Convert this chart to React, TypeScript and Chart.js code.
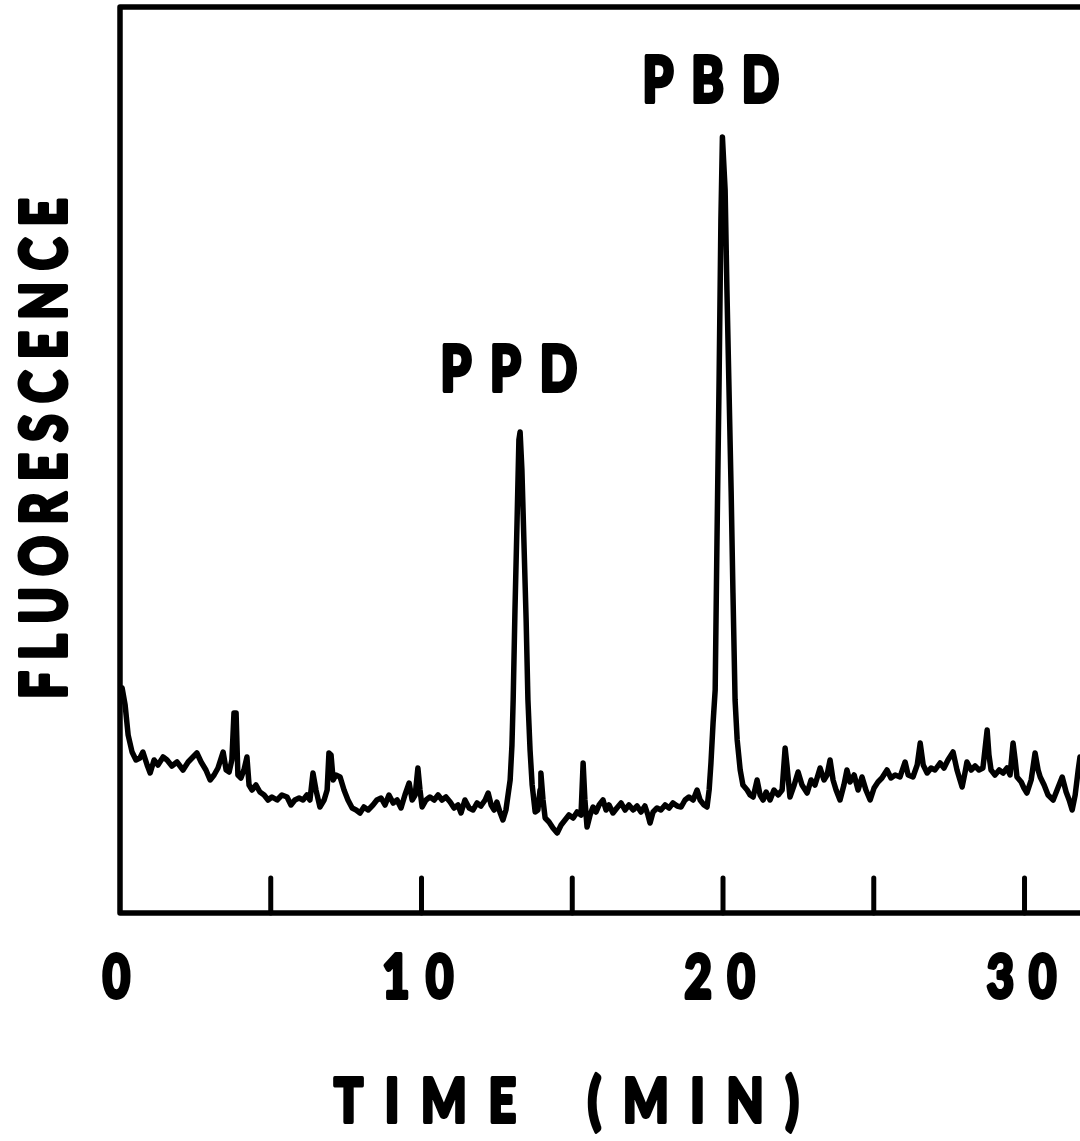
import React, { useEffect, useRef } from "react";
import { Chart, registerables } from "chart.js";

Chart.register(...registerables);

// ---- Data (time in minutes, fluorescence in arbitrary units) ----
const timeMin: number[] = [
  0.07, 0.17, 0.27, 0.40, 0.53, 0.66, 0.76, 0.90, 1.00, 1.13, 1.26, 1.43, 1.56, 1.72, 1.89, 2.09, 2.26, 2.42, 2.55, 2.69,
  2.85, 2.99, 3.12, 3.25, 3.42, 3.52, 3.62, 3.71, 3.78, 3.85, 3.91, 4.01, 4.11, 4.21, 4.28, 4.38, 4.51, 4.64, 4.78, 4.91,
  5.04, 5.21, 5.37, 5.54, 5.67, 5.80, 5.94, 6.07, 6.20, 6.30, 6.40, 6.50, 6.63, 6.77, 6.87, 6.93, 7.00, 7.07, 7.16, 7.30,
  7.43, 7.56, 7.70, 7.83, 7.96, 8.09, 8.23, 8.39, 8.52, 8.66, 8.79, 8.92, 9.06, 9.19, 9.32, 9.45, 9.59, 9.69, 9.79, 9.88,
  9.95, 10.02, 10.15, 10.28, 10.42, 10.55, 10.68, 10.81, 10.95, 11.08, 11.21, 11.31, 11.44, 11.58, 11.71, 11.84, 11.97, 12.11, 12.21, 12.31,
  12.41, 12.50, 12.60, 12.70, 12.80, 12.87, 12.94, 13.00, 13.04, 13.10, 13.17, 13.23, 13.27, 13.33, 13.40, 13.47, 13.53, 13.60, 13.67, 13.77,
  13.86, 13.93, 13.96, 14.03, 14.10, 14.23, 14.36, 14.50, 14.63, 14.76, 14.89, 15.03, 15.16, 15.29, 15.36, 15.42, 15.49, 15.59, 15.69, 15.79,
  15.89, 16.02, 16.12, 16.22, 16.35, 16.48, 16.62, 16.75, 16.88, 17.02, 17.15, 17.28, 17.41, 17.51, 17.58, 17.68, 17.81, 17.94, 18.08, 18.21,
  18.34, 18.48, 18.61, 18.74, 18.87, 19.01, 19.14, 19.24, 19.37, 19.47, 19.54, 19.60, 19.67, 19.74, 19.80, 19.87, 19.93, 19.98, 20.07, 20.13,
  20.20, 20.27, 20.33, 20.40, 20.47, 20.57, 20.66, 20.80, 20.90, 21.00, 21.13, 21.23, 21.33, 21.43, 21.56, 21.69, 21.83, 21.96, 22.06, 22.12,
  22.22, 22.36, 22.49, 22.62, 22.79, 22.92, 23.05, 23.22, 23.35, 23.45, 23.55, 23.65, 23.75, 23.88, 24.01, 24.11, 24.21, 24.35, 24.48, 24.61,
  24.74, 24.88, 25.01, 25.14, 25.27, 25.44, 25.57, 25.71, 25.87, 25.97, 26.04, 26.14, 26.30, 26.44, 26.54, 26.64, 26.77, 26.90, 27.03, 27.20,
  27.33, 27.46, 27.63, 27.76, 27.86, 27.93, 28.03, 28.09, 28.23, 28.36, 28.49, 28.62, 28.76, 28.82, 28.89, 29.02, 29.16, 29.29, 29.42, 29.52,
  29.62, 29.69, 29.75, 29.89, 29.98, 30.08, 30.22, 30.35, 30.45, 30.52, 30.65, 30.78, 30.95, 31.08, 31.25, 31.38, 31.48, 31.58, 31.68, 31.78,
  31.84,
];

const fluorescence: number[] = [
  225, 208, 178, 161, 153, 155, 161, 148, 140, 153, 148, 156, 153, 147, 151, 143, 151, 156, 160, 151,
  143, 133, 138, 145, 161, 143, 141, 153, 200, 200, 138, 135, 143, 156, 128, 123, 128, 121, 118, 113,
  116, 113, 118, 116, 108, 113, 115, 113, 118, 113, 140, 123, 106, 113, 123, 160, 158, 133, 138, 136,
  123, 113, 105, 103, 100, 106, 103, 108, 113, 115, 108, 118, 110, 113, 105, 118, 130, 113, 118, 145,
  123, 106, 113, 116, 113, 118, 113, 116, 111, 105, 108, 100, 113, 105, 103, 110, 107, 113, 120, 108,
  103, 111, 101, 93, 103, 118, 133, 168, 213, 303, 393, 473, 481, 443, 368, 293, 213, 163, 128, 101,
  103, 123, 140, 113, 95, 91, 85, 80, 88, 93, 98, 95, 101, 98, 150, 113, 86, 98, 106, 101,
  108, 113, 103, 108, 100, 105, 110, 103, 108, 103, 107, 101, 107, 98, 90, 101, 105, 103, 108, 105,
  110, 107, 106, 113, 116, 113, 123, 113, 108, 106, 123, 150, 190, 223, 373, 533, 693, 776, 723, 623,
  522, 421, 320, 213, 173, 143, 128, 123, 118, 116, 133, 118, 113, 121, 113, 123, 118, 123, 165, 148,
  116, 128, 141, 128, 120, 133, 128, 145, 133, 138, 153, 133, 123, 113, 128, 143, 131, 138, 123, 136,
  123, 113, 125, 131, 135, 143, 135, 138, 136, 145, 151, 138, 136, 148, 170, 148, 140, 145, 143, 150,
  145, 153, 161, 143, 133, 126, 141, 151, 143, 147, 143, 145, 183, 158, 143, 138, 143, 140, 145, 138,
  170, 153, 136, 131, 125, 120, 133, 160, 143, 136, 128, 118, 113, 123, 136, 121, 113, 103, 118, 143,
  156,
];

const xTickLabelValues: number[] = [0, 10, 20, 30];
const xTickLabels: string[] = ["0", "10", "20", "30"];
const xTickMarkValues: number[] = [5, 10, 15, 20, 25, 30];
const peakNames: string[] = ["PPD", "PBD"];
const peakLabelTimes: number[] = [12.92, 19.62];
const peakLabelLevels: number[] = [545, 834];
const xAxisTitle = "TIME (MIN)";
const yAxisTitle = "FLUORESCENCE";

const X_MAX = 31.84;
const Y_MAX = 906;

const FONT_FAMILY = 'Lato, "Liberation Sans", Arial, sans-serif';

function drawFitText(
  ctx: CanvasRenderingContext2D,
  text: string,
  cx: number,
  cy: number,
  targetW: number,
  cap: number,
  rot: number = 0,
  firstWordW: number = 0
) {
  const sx = 0.78;
  ctx.save();
  const c: any = ctx;
  c.letterSpacing = "0px";
  c.wordSpacing = "0px";
  ctx.font = `900 100px ${FONT_FAMILY}`;
  const capRef = ctx.measureText("H").actualBoundingBoxAscent || 72;
  const strokeW = 4;
  const size = ((cap - strokeW) * 100) / capRef;
  ctx.font = `900 ${size}px ${FONT_FAMILY}`;
  const m = ctx.measureText(text);
  const ink = m.actualBoundingBoxLeft + m.actualBoundingBoxRight;
  const n = text.length;
  const tW = targetW - strokeW;
  let ls = 0;
  let ws = 0;
  if (firstWordW > 0) {
    const words = text.split(" ");
    const fw = words[0];
    const mw = ctx.measureText(fw);
    const inkW = mw.actualBoundingBoxLeft + mw.actualBoundingBoxRight;
    ls = ((firstWordW - strokeW) / sx - inkW) / (fw.length - 1);
    const spaces = words.length - 1;
    ws = (tW / sx - ink - ls * (n - 1)) / spaces;
  } else {
    ls = (tW / sx - ink) / (n - 1);
  }
  ctx.translate(cx, cy);
  if (rot) ctx.rotate(rot);
  ctx.scale(sx, 1);
  c.letterSpacing = `${ls}px`;
  c.wordSpacing = `${ws}px`;
  ctx.textAlign = "left";
  ctx.textBaseline = "alphabetic";
  const x0 = -tW / 2 / sx + m.actualBoundingBoxLeft;
  ctx.fillStyle = "#000";
  ctx.strokeStyle = "#000";
  ctx.lineWidth = strokeW;
  ctx.lineJoin = "round";
  ctx.fillText(text, x0, (cap - strokeW) / 2);
  ctx.strokeText(text, x0, (cap - strokeW) / 2);
  ctx.restore();
}

const decorPlugin = {
  id: "decor",
  afterDraw(chart: any) {
    const { ctx, chartArea, scales } = chart;
    const xs = scales.x;
    const ys = scales.y;
    ctx.save();
    ctx.strokeStyle = "#000";
    ctx.lineCap = "round";
    ctx.lineJoin = "round";
    // frame (left, top, bottom)
    ctx.lineWidth = 5.5;
    ctx.beginPath();
    ctx.moveTo(chartArea.right + 10, chartArea.top);
    ctx.lineTo(chartArea.left, chartArea.top);
    ctx.lineTo(chartArea.left, chartArea.bottom);
    ctx.lineTo(chartArea.right + 10, chartArea.bottom);
    ctx.stroke();
    // inward tick marks
    ctx.lineWidth = 5;
    const tickLen = 35;
    for (const v of xTickMarkValues) {
      const px = xs.getPixelForValue(v);
      ctx.beginPath();
      ctx.moveTo(px, chartArea.bottom);
      ctx.lineTo(px, chartArea.bottom - tickLen);
      ctx.stroke();
    }
    ctx.restore();

    // tick labels
    xTickLabelValues.forEach((v, i) => {
      const px = xs.getPixelForValue(v);
      const lab = xTickLabels[i];
      const w = lab.length === 1 ? 31 : 72;
      drawFitText(ctx, lab, px - 3, chartArea.bottom + 63, w, 48);
    });

    // axis titles
    drawFitText(ctx, xAxisTitle, 566, 1099, 468, 49, 0, 185);
    drawFitText(ctx, yAxisTitle, 43, 448, 500, 50, -Math.PI / 2);

    // peak labels
    peakNames.forEach((name, i) => {
      const px = xs.getPixelForValue(peakLabelTimes[i]);
      const py = ys.getPixelForValue(peakLabelLevels[i]);
      drawFitText(ctx, name, px, py, 136, 50);
    });
  },
};

export default function App() {
  const canvasRef = useRef<HTMLCanvasElement | null>(null);

  useEffect(() => {
    const canvas = canvasRef.current;
    if (!canvas) return;
    const points = timeMin.map((t, i) => ({ x: t, y: fluorescence[i] }));
    const chart = new Chart(canvas, {
      type: "line",
      data: {
        datasets: [
          {
            label: "Fluorescence",
            data: points,
            borderColor: "#000",
            borderWidth: 5.5,
            pointRadius: 0,
            tension: 0,
            borderJoinStyle: "round",
            borderCapStyle: "round",
            fill: false,
          },
        ],
      },
      options: {
        animation: false,
        responsive: false,
        devicePixelRatio: 1,
        layout: { padding: { left: 120, top: 7, right: 0, bottom: 228 } },
        plugins: {
          legend: { display: false },
          tooltip: { enabled: false },
          title: { display: false },
        },
        scales: {
          x: { type: "linear", min: 0, max: X_MAX, display: false },
          y: { type: "linear", min: 0, max: Y_MAX, display: false },
        },
      },
      plugins: [decorPlugin],
    });
    return () => chart.destroy();
  }, []);

  return (
    <div style={{ position: "fixed", left: 0, top: 0, width: 1080, height: 1141, background: "#fff" }}>
      <canvas ref={canvasRef} width={1080} height={1141} style={{ width: 1080, height: 1141, display: "block" }} />
    </div>
  );
}
